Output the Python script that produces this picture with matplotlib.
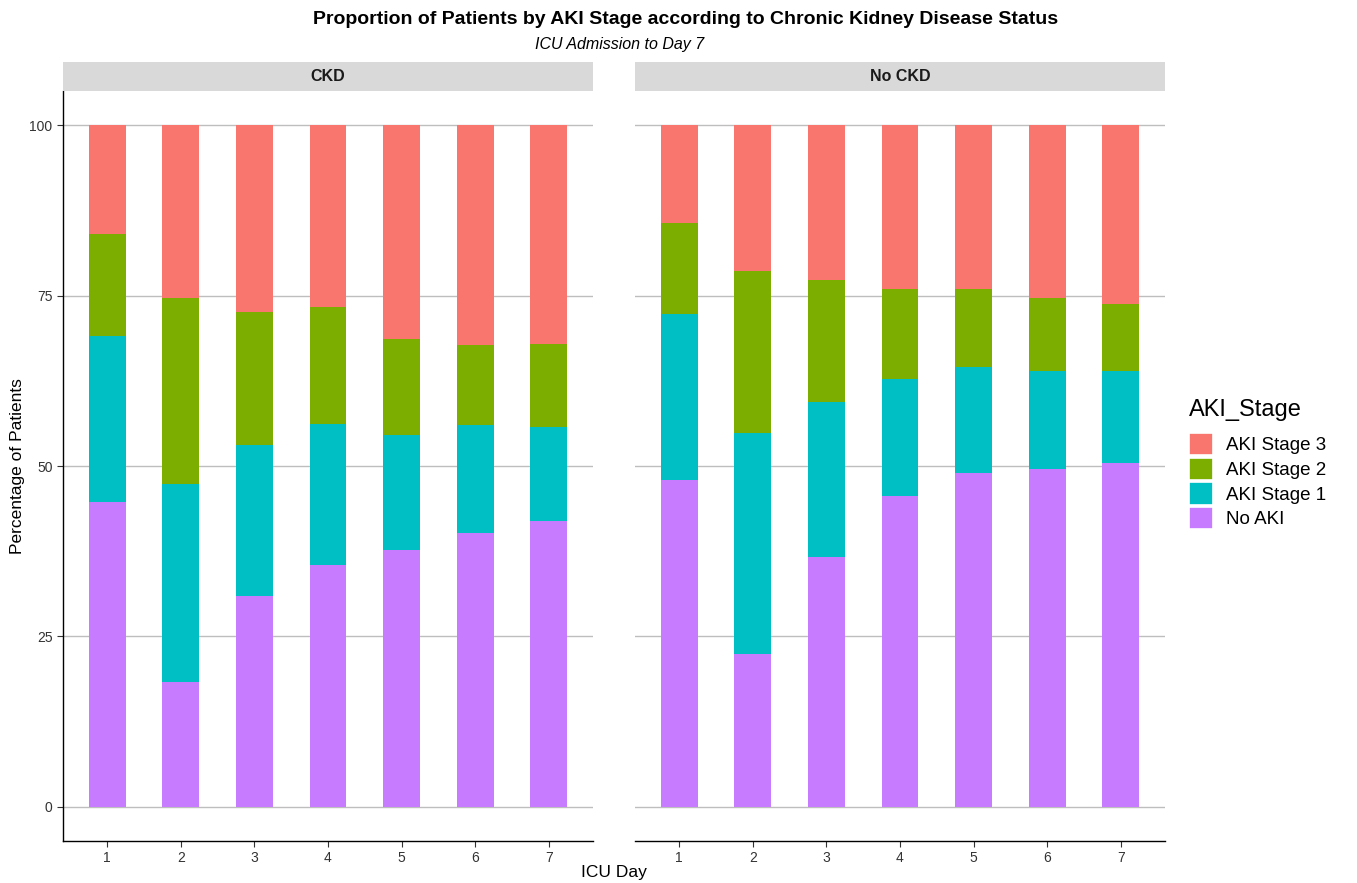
import matplotlib.pyplot as plt
from matplotlib.patches import Patch
import numpy as np

plt.rcParams['font.family'] = ['Liberation Sans', 'DejaVu Sans']

days = [1, 2, 3, 4, 5, 6, 7]
stages = ["No AKI", "AKI Stage 1", "AKI Stage 2", "AKI Stage 3"]
colors = {"AKI Stage 3": "#F8766D", "AKI Stage 2": "#7CAE00",
          "AKI Stage 1": "#00BFC4", "No AKI": "#C77CFF"}

# percentages per day, stacked bottom -> top
ckd_no_aki = [44.7, 18.3, 31.0, 35.5, 37.7, 40.2, 41.9]
ckd_stage1 = [24.4, 29.1, 22.1, 20.6, 16.9, 15.8, 13.8]
ckd_stage2 = [15.0, 27.2, 19.5, 17.2, 14.1, 11.7, 12.2]
ckd_stage3 = [15.9, 25.4, 27.4, 26.7, 31.3, 32.3, 32.1]

nockd_no_aki = [47.9, 22.4, 36.6, 45.6, 49.0, 49.6, 50.5]
nockd_stage1 = [24.4, 32.4, 22.8, 17.1, 15.5, 14.4, 13.5]
nockd_stage2 = [13.4, 23.8, 17.9, 13.3, 11.4, 10.7, 9.8]
nockd_stage3 = [14.3, 21.4, 22.7, 24.0, 24.1, 25.3, 26.2]

panels = [
    ("CKD", [ckd_no_aki, ckd_stage1, ckd_stage2, ckd_stage3]),
    ("No CKD", [nockd_no_aki, nockd_stage1, nockd_stage2, nockd_stage3]),
]

W, H = 1357, 883
fig = plt.figure(figsize=(W / 100, H / 100), dpi=100)

ax_left = [63, 635]
ax_w = 530
ax_top, ax_bot = 91, 841
strip_top = 62

for i, (name, series) in enumerate(panels):
    ax = fig.add_axes([ax_left[i] / W, 1 - ax_bot / H, ax_w / W, (ax_bot - ax_top) / H])
    bottom = np.zeros(len(days))
    for st, vals in zip(stages, series):
        ax.bar(days, vals, bottom=bottom, width=0.5, color=colors[st], edgecolor='none', zorder=2)
        bottom += np.array(vals)
    ax.set_xlim(0.4, 7.6)
    ax.set_ylim(-5, 105)
    ax.set_yticks([0, 25, 50, 75, 100])
    ax.set_xticks(days)
    ax.grid(axis='y', color='#BEBEBE', linewidth=1.0, zorder=0)
    ax.set_axisbelow(True)
    for s in ['top', 'right']:
        ax.spines[s].set_visible(False)
    ax.spines['bottom'].set_color('black')
    ax.spines['bottom'].set_linewidth(1.0)
    ax.tick_params(axis='both', labelsize=10, colors='#333333', length=4, width=0.8)
    if i == 0:
        ax.spines['left'].set_color('black')
        ax.spines['left'].set_linewidth(1.0)
    else:
        ax.spines['left'].set_visible(False)
        ax.tick_params(axis='y', left=False, labelleft=False)
    # facet strip
    sax = fig.add_axes([ax_left[i] / W, 1 - ax_top / H, ax_w / W, (ax_top - strip_top) / H])
    sax.set_facecolor('#D9D9D9')
    sax.set_xticks([])
    sax.set_yticks([])
    for s in sax.spines.values():
        s.set_visible(False)
    sax.text(0.5, 0.5, name, ha='center', va='center', fontsize=11.5,
             fontweight='bold', color='#1A1A1A', transform=sax.transAxes)

fig.text(686 / W, 1 - 20 / H, "Proportion of Patients by AKI Stage according to Chronic Kidney Disease Status",
         ha='center', va='center', fontsize=14, fontweight='bold')
fig.text(620 / W, 1 - 45 / H, "ICU Admission to Day 7", ha='center', va='center',
         fontsize=11.5, style='italic')
fig.text(18 / W, 1 - 466 / H, "Percentage of Patients", rotation=90, ha='center', va='center', fontsize=12.5)
fig.text(614 / W, 1 - 873 / H, "ICU Day", ha='center', va='center', fontsize=12.5)

# legend
fig.text(1189 / W, 1 - 410 / H, "AKI_Stage", ha='left', va='center', fontsize=17)
handles = [Patch(facecolor=colors[s], edgecolor='white', linewidth=1.2, label=s) for s in stages[::-1]]
leg = fig.legend(handles=handles, loc='upper left',
                 bbox_to_anchor=(1189 / W, 1 - 433 / H), frameon=False,
                 fontsize=13.5, handlelength=1.3, handleheight=1.45,
                 handletextpad=0.65, labelspacing=0.13, borderaxespad=0, borderpad=0)

fig.savefig("out.png", dpi=100)
